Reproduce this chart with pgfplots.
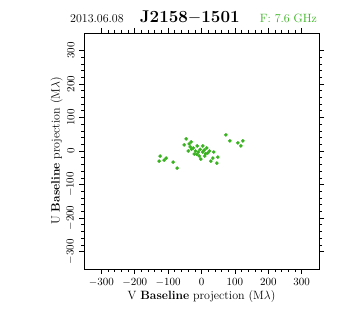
\documentclass[border=0pt]{standalone}
\usepackage{pgfplots}
\pgfplotsset{compat=1.18}
\definecolor{ptgreen}{RGB}{56,178,30}
\begin{document}
\begin{tikzpicture}[x=1pt,y=1pt]
\useasboundingbox (-84,-67) rectangle (252,269);
\begin{axis}[
  at={(0,0)}, anchor=south west,
  scale only axis, width=235pt, height=236pt,
  xmin=-352, xmax=352, ymin=-352, ymax=352,
  xtick={-300,-200,...,300}, ytick={-300,-200,...,300},
  minor tick num=4,
  tick align=outside,
  major tick length=5pt, minor tick length=3pt,
  tick style={black, line width=0.6pt},
  axis line style={line width=0.6pt},
  tick label style={font=\fontsize{11}{13}\selectfont},
  yticklabel style={rotate=90, anchor=south, yshift=1pt},
  xticklabel style={yshift=-1pt},
  xlabel={V \textbf{Baseline} projection (M$\lambda$)},
  ylabel={U \textbf{Baseline} projection (M$\lambda$)},
  label style={font=\fontsize{12}{14}\selectfont},
  xlabel style={yshift=3pt},
  ylabel style={yshift=-3pt},
  clip=false,
]
\addplot[only marks, mark=*, mark size=1.6pt, color=ptgreen] coordinates {
(-124,-15) (-106,-21) (-112,-27) (-127,-30) (-85,-33) (-73,-51)
(-46,36) (-31,27) (-37,21) (-52,18) (-40,0) (-25,9) (-13,15) (4,15)
(-10,-3) (-22,-9) (-7,-15) (4,-3) (16,9) (19,-6) (10,-15) (37,-3)
(34,-21) (49,-18) (28,-30) (46,-36)
(-30,5) (-18,0) (-4,5) (8,3) (-14,-10) (12,-8) (24,0) (-34,12) (-2,-24)
(73,48) (85,30) (109,24) (118,15) (124,30)
};
\node[anchor=base, font=\fontsize{12}{14}\selectfont] at (rel axis cs:0.055,1.0) [yshift=10pt] {2013.06.08};
\node[anchor=base, font=\fontsize{17}{19}\selectfont\bfseries] at (rel axis cs:0.45,1.0) [yshift=10pt] {J2158$-$1501};
\node[anchor=base, font=\fontsize{12}{14}\selectfont, text=ptgreen] at (rel axis cs:0.87,1.0) [yshift=10pt] {F: 7.6 GHz};
\end{axis}
\end{tikzpicture}
\end{document}
